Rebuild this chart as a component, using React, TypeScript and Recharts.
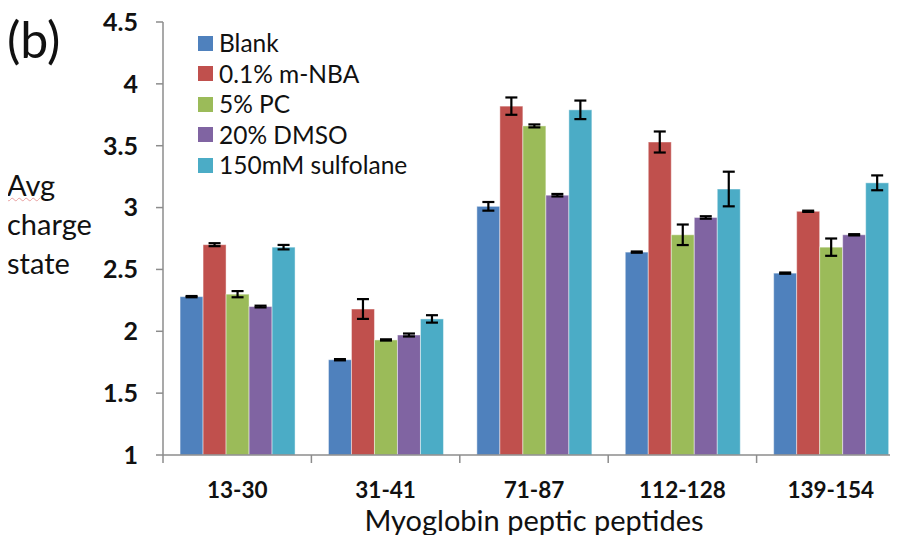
import { Bar, BarChart, XAxis, YAxis } from "recharts";

const categories = ["13-30", "31-41", "71-87", "112-128", "139-154"];
const blank = [2.28, 1.77, 3.01, 2.64, 2.47];
const mnba = [2.7, 2.18, 3.82, 3.53, 2.97];
const pc = [2.3, 1.93, 3.66, 2.78, 2.68];
const dmso = [2.2, 1.97, 3.1, 2.92, 2.78];
const sulfolane = [2.68, 2.1, 3.79, 3.15, 3.2];

const blankErr = [0.005, 0.005, 0.035, 0.005, 0.005];
const mnbaErr = [0.012, 0.08, 0.07, 0.085, 0.005];
const pcErr = [0.025, 0.005, 0.012, 0.083, 0.07];
const dmsoErr = [0.007, 0.012, 0.01, 0.01, 0.005];
const sulfolaneErr = [0.018, 0.03, 0.075, 0.14, 0.06];

const yTicks = [1, 1.5, 2, 2.5, 3, 3.5, 4, 4.5];
const yMin = 1;

const series = [
  { key: "blank", name: "Blank", color: "#4F81BD" },
  { key: "mnba", name: "0.1% m-NBA", color: "#C0504D" },
  { key: "pc", name: "5% PC", color: "#9BBB59" },
  { key: "dmso", name: "20% DMSO", color: "#8064A2" },
  { key: "sulfolane", name: "150mM sulfolane", color: "#4BACC6" }
];

const data = categories.map((name, i) => ({
  name,
  blank: blank[i],
  blankErr: blankErr[i],
  mnba: mnba[i],
  mnbaErr: mnbaErr[i],
  pc: pc[i],
  pcErr: pcErr[i],
  dmso: dmso[i],
  dmsoErr: dmsoErr[i],
  sulfolane: sulfolane[i],
  sulfolaneErr: sulfolaneErr[i]
}));

const chartWidth = 912;
const plotLeft = 163;
const plotRight = 7;
const axisColor = "#8c8c8c";
const font = "Lato, 'Open Sans', sans-serif";

// Excel-style category axis: ticks sit on the category boundaries, label in the middle
function CategoryTick(props: any) {
  const { x, y, payload, index } = props;
  const half = payload?.offset || (chartWidth - plotLeft - plotRight) / categories.length / 2;
  return (
    <g>
      <line x1={x - half} y1={y - 8} x2={x - half} y2={y} stroke={axisColor} strokeWidth={1.5} />
      {index === categories.length - 1 ? (
        <line x1={x + half} y1={y - 8} x2={x + half} y2={y} stroke={axisColor} strokeWidth={1.5} />
      ) : null}
      <text x={x} y={y + 35} textAnchor="middle" fill="#111" fontSize={22.5} fontWeight={700}>
        {payload.value}
      </text>
    </g>
  );
}

// bar plus its error whisker; pixels per unit come from the bar the scale drew
function BarWithError(props: any, key: string) {
  const { x, y, width, height, fill, payload } = props;
  const value = payload[key];
  const err = payload[`${key}Err`];
  const perUnit = value > yMin ? height / (value - yMin) : 0;
  const e = err * perUnit;
  const cx = x + width / 2;
  const cap = 6;
  return (
    <g>
      <rect x={x} y={y} width={width} height={height} fill={fill} stroke="#ffffff" strokeOpacity={0.45} strokeWidth={1} />
      <g stroke="#000" strokeWidth={2.2}>
        <line x1={cx} y1={y - e} x2={cx} y2={y + e} />
        <line x1={cx - cap} y1={y - e} x2={cx + cap} y2={y - e} />
        <line x1={cx - cap} y1={y + e} x2={cx + cap} y2={y + e} />
      </g>
    </g>
  );
}

function LegendBox() {
  return (
    <div style={{ position: "absolute", left: 198, top: 28, fontSize: 24.5, color: "#111", lineHeight: "30.5px" }}>
      {series.map((s) => (
        <div key={s.key} style={{ display: "flex", alignItems: "center", whiteSpace: "nowrap" }}>
          <span style={{ width: 15, height: 15, background: s.color, marginRight: 6, display: "inline-block" }} />
          {s.name}
        </div>
      ))}
    </div>
  );
}

export default function App() {
  return (
    <div style={{ width: 898, height: 543, margin: -8, overflow: "hidden", position: "relative", background: "#fff", fontFamily: font }}>
      <BarChart
        width={chartWidth}
        height={543}
        data={data}
        margin={{ top: 22, right: plotRight, bottom: 0, left: 0 }}
        barCategoryGap="11.5%"
        barGap={0}
        style={{ position: "absolute", left: 0, top: 0 }}
      >
        <XAxis
          dataKey="name"
          height={88}
          axisLine={{ stroke: axisColor, strokeWidth: 1.5 }}
          tickLine={false}
          tickSize={8}
          tickMargin={0}
          tick={<CategoryTick />}
          interval={0}
          label={{ value: "Myoglobin peptic peptides", position: "insideBottom", offset: 12, fill: "#111", fontSize: 29 }}
        />
        <YAxis
          width={plotLeft}
          domain={[yMin, 4.5]}
          ticks={yTicks}
          allowDataOverflow
          axisLine={{ stroke: axisColor, strokeWidth: 1.5 }}
          tickLine={{ stroke: axisColor, strokeWidth: 1.5 }}
          tickSize={7}
          tickMargin={18}
          tick={{ fill: "#111", fontSize: 25, fontWeight: 700 }}
        />
        {series.map((s) => (
          <Bar
            key={s.key}
            dataKey={s.key}
            name={s.name}
            fill={s.color}
            isAnimationActive={false}
            shape={(p: any) => BarWithError(p, s.key)}
          />
        ))}
      </BarChart>
      <div style={{ position: "absolute", left: 7, top: 9, fontSize: 50, lineHeight: 1.2, color: "#111" }}>(b)</div>
      <div style={{ position: "absolute", left: 7, top: 165, fontSize: 29, lineHeight: "39px", color: "#111" }}>
        <div>
          <span style={{ textDecoration: "underline wavy #e8a0a0", textDecorationThickness: 1 }}>Avg</span>
        </div>
        <div>charge</div>
        <div>state</div>
      </div>
      <LegendBox />
    </div>
  );
}
